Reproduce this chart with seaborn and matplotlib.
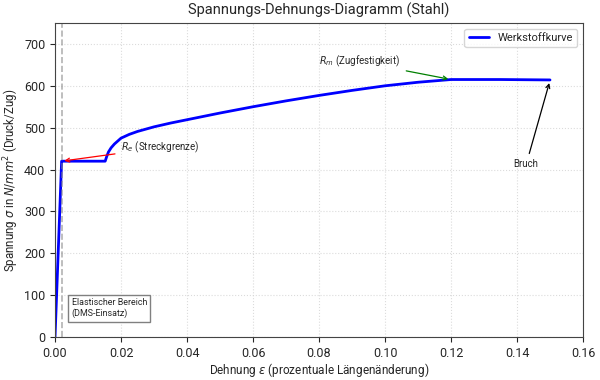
import matplotlib
matplotlib.use("Agg")
import matplotlib.pyplot as plt
import seaborn as sns
import pandas as pd

# Strain (x) and stress (y) values
strain = [0.0, 0.002, 0.0152, 0.0157, 0.0162, 0.0170, 0.018, 0.019, 0.020,
          0.0225, 0.025, 0.030, 0.035, 0.040, 0.050, 0.060, 0.070, 0.080,
          0.090, 0.100, 0.110, 0.120, 0.135, 0.150]
stress = [0.0, 420.0, 420.0, 432.0, 442.0, 452.0, 461.0, 468.0, 475.0,
          484.0, 491.0, 502.0, 511.0, 519.0, 535.0, 550.0, 564.0, 577.0,
          589.0, 600.0, 608.5, 615.0, 615.0, 614.0]

series_label = "Werkstoffkurve"
title = "Spannungs-Dehnungs-Diagramm (Stahl)"
xlabel = r"Dehnung $\varepsilon$ (prozentuale Längenänderung)"
ylabel = r"Spannung $\sigma$ in $N/mm^2$ (Druck/Zug)"

df = pd.DataFrame({"Dehnung": strain, "Spannung": stress})

sns.set_style("ticks")
plt.rcParams["font.family"] = ["Roboto", "DejaVu Sans"]
plt.rcParams["mathtext.fontset"] = "dejavusans"

fig, ax = plt.subplots(figsize=(6.0, 3.8), dpi=100)
sns.lineplot(data=df, x="Dehnung", y="Spannung", ax=ax, color="blue",
             linewidth=2, label=series_label, sort=False, estimator=None)

ax.axvline(0.002, color="gray", linestyle="--", alpha=0.6, linewidth=1.2)

ax.annotate(r"$R_e$ (Streckgrenze)", xy=(0.002, 420), xytext=(0.02, 445),
            fontsize=7, arrowprops=dict(arrowstyle="->", color="red", lw=0.9))
ax.annotate(r"$R_m$ (Zugfestigkeit)", xy=(0.12, 615), xytext=(0.08, 650),
            fontsize=7, arrowprops=dict(arrowstyle="->", color="green", lw=0.9))
ax.annotate("Bruch", xy=(0.15, 613), xytext=(0.139, 405),
            fontsize=7, arrowprops=dict(arrowstyle="->", color="black", lw=0.9))
ax.text(0.005, 50, "Elastischer Bereich\n(DMS-Einsatz)", fontsize=6.4,
        bbox=dict(boxstyle="square,pad=0.4", facecolor="white", edgecolor="gray"))

ax.set_xlim(0, 0.16)
ax.set_ylim(0, 750)
ax.set_title(title, fontsize=10.5)
ax.set_xlabel(xlabel, fontsize=8.5, labelpad=1)
ax.set_ylabel(ylabel, fontsize=8.3, labelpad=2)
ax.tick_params(labelsize=9)
ax.grid(True, linestyle=":", color="lightgray", alpha=0.8)
for s in ax.spines.values():
    s.set_color("#444444")
ax.legend(loc="upper right", fontsize=8, frameon=True, handlelength=1.8)

fig.subplots_adjust(left=0.0917, right=0.9717, top=0.9395, bottom=0.113)
fig.savefig("out.png", dpi=100)
